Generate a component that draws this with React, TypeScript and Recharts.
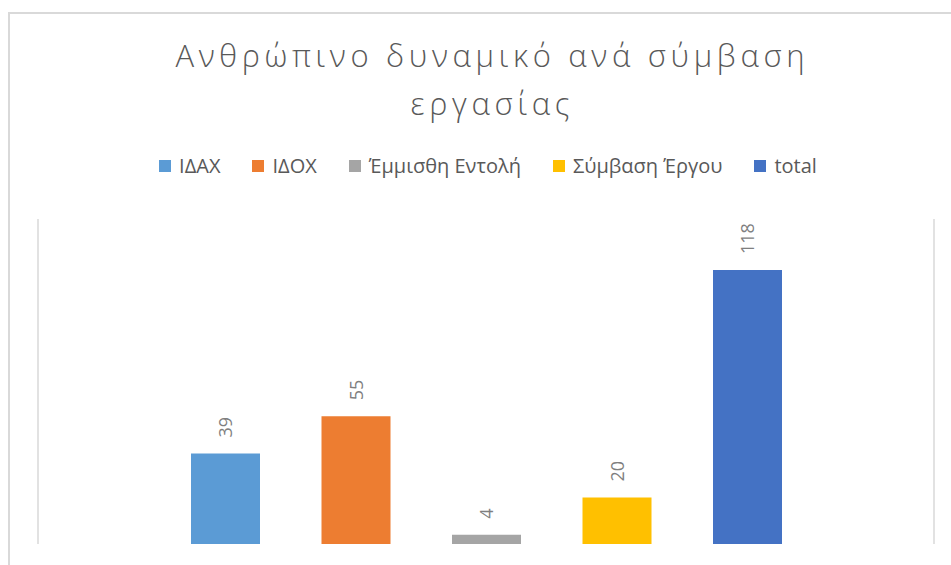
import { BarChart, Bar, XAxis, YAxis, CartesianGrid } from "recharts"

const categories = [""]
const seriesNames = ["ΙΔΑΧ", "ΙΔΟΧ", "Έμμισθη Εντολή", "Σύμβαση Έργου", "total"]
const seriesValues = [39, 55, 4, 20, 118]
const seriesColors = ["#5b9bd5", "#ed7d31", "#a5a5a5", "#ffc000", "#4472c4"]
const yDomain = [0, 140]

const titleLines = ["Ανθρώπινο δυναμικό ανά σύμβαση", "εργασίας"]

const data = categories.map((c) => {
  const row: Record<string, string | number> = { name: c }
  seriesNames.forEach((s, i) => {
    row[s] = seriesValues[i]
  })
  return row
})

const FONT = "'Open Sans', 'Noto Sans', sans-serif"

function RotLabel(props: any) {
  const { x, y, width, value } = props
  const cx = Number(x) + Number(width) / 2
  const ty = Number(y) - 16
  return (
    <text
      x={cx}
      y={ty}
      transform={`rotate(-90, ${cx}, ${ty})`}
      textAnchor="start"
      dominantBaseline="central"
      fill="#7f7f7f"
      fontSize={18}
      fontFamily={FONT}
    >
      {value}
    </text>
  )
}

function ChartLegend() {
  return (
    <div
      style={{
        position: "absolute",
        top: 152,
        left: 0,
        width: 976,
        display: "flex",
        justifyContent: "center",
        gap: 32,
        fontFamily: FONT,
        fontSize: 20,
        color: "#595959",
      }}
    >
      {seriesNames.map((s, i) => (
        <div key={s} style={{ display: "flex", alignItems: "center" }}>
          <span style={{ width: 12, height: 12, background: seriesColors[i], marginRight: 8, display: "inline-block" }} />
          <span>{s}</span>
        </div>
      ))}
    </div>
  )
}

export default function App() {
  return (
    <div
      style={{
        position: "absolute",
        left: 0,
        top: 0,
        width: 951,
        height: 565,
        overflow: "hidden",
        background: "#fff",
      }}
    >
      <div
        style={{
          position: "absolute",
          left: 8,
          top: 12,
          width: 980,
          height: 600,
          border: "2px solid #d9d9d9",
        }}
      />
      <div
        style={{
          position: "absolute",
          top: 31,
          left: 0,
          width: 980,
          textAlign: "center",
          fontFamily: FONT,
          fontWeight: 300,
          fontSize: 31,
          lineHeight: "48px",
          letterSpacing: 4.7,
          color: "#595959",
          paddingLeft: 4.7,
          boxSizing: "border-box",
        }}
      >
        {titleLines.map((t) => (
          <div key={t}>{t}</div>
        ))}
      </div>
      <ChartLegend />
      <div style={{ position: "absolute", left: 0, top: 0 }}>
        <BarChart
          width={951}
          height={565}
          data={data}
          margin={{ top: 219, right: 17, bottom: 21, left: 38 }}
          barSize={69}
          barGap={61.5}
        >
          <CartesianGrid
            horizontal={false}
            horizontalPoints={[]}
            stroke="#d9d9d9"
            strokeWidth={1.5}
            verticalCoordinatesGenerator={({ offset }: any) => [offset.left, offset.left + offset.width]}
          />
          <XAxis dataKey="name" hide />
          <YAxis hide domain={yDomain} />
          {seriesNames.map((s, i) => (
            <Bar
              key={s}
              dataKey={s}
              name={s}
              fill={seriesColors[i]}
              isAnimationActive={false}
              label={<RotLabel />}
            />
          ))}
        </BarChart>
      </div>
    </div>
  )
}
